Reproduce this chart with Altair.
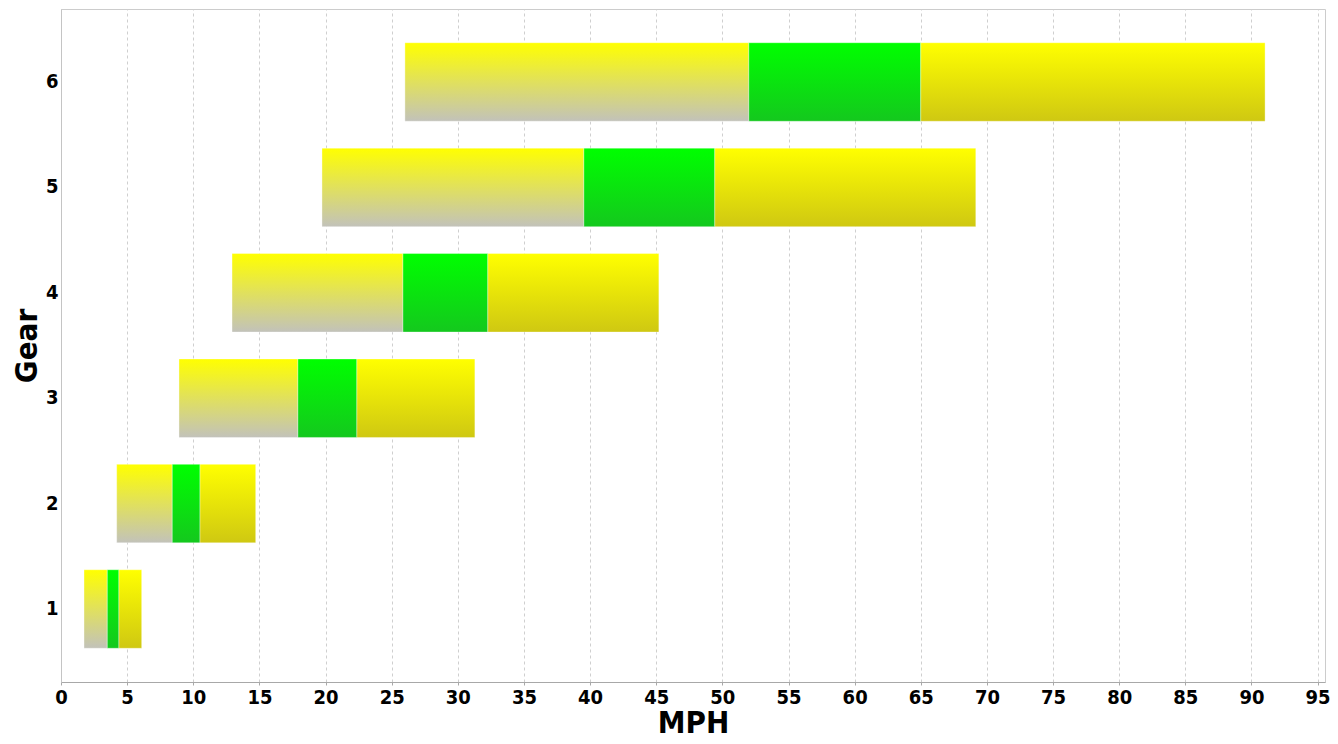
import altair as alt
import pandas as pd

# Gear speed ranges (MPH)
gears = [1, 2, 3, 4, 5, 6]
range_start = [1.74, 4.21, 8.92, 12.93, 19.73, 26.00]
band_start = [3.50, 8.41, 17.91, 25.85, 39.53, 52.00]
band_end = [4.38, 10.51, 22.37, 32.27, 49.43, 65.00]
range_end = [6.10, 14.72, 31.29, 45.20, 69.16, 91.03]
x_ticks = list(range(0, 100, 5))

rows = []
for g, a, b, c, d in zip(gears, range_start, band_start, band_end, range_end):
    rows.append({"gear": g, "segment": "low", "x_start": a, "x_end": b})
    rows.append({"gear": g, "segment": "optimal", "x_start": b, "x_end": c})
    rows.append({"gear": g, "segment": "high", "x_start": c, "x_end": d})
df = pd.DataFrame(rows)

FONT = "DejaVu Sans Condensed, Liberation Sans Narrow, DejaVu Sans"


def grad(top, bottom):
    return alt.Gradient(
        gradient="linear",
        stops=[alt.GradientStop(color=top, offset=0),
               alt.GradientStop(color=bottom, offset=1)],
        x1=0, x2=0, y1=0, y2=1,
    )


x_enc = alt.X(
    "x_start:Q",
    title="MPH",
    scale=alt.Scale(domain=[0, 95.56], nice=False, zero=False),
    axis=alt.Axis(values=x_ticks, grid=True, gridDash=[3, 3], gridColor="#cfcfcf",
                  domainColor="#a8a8a8", tickColor="#a8a8a8", tickSize=3,
                  labelPadding=2, labelFlush=False,
                  titleY=50, titleBaseline="alphabetic"),
)
y_enc = alt.Y(
    "gear:O",
    sort="descending",
    title="Gear",
    scale=alt.Scale(paddingInner=0.255, paddingOuter=0.32),
    axis=alt.Axis(grid=False, ticks=False, domainColor="#c4c4c4", labelAngle=0,
                  labelPadding=3, titlePadding=2),
)

base = alt.Chart(df).encode(x=x_enc, x2="x_end:Q", y=y_enc)

stroke_kw = dict(stroke="#ffffff", strokeWidth=0.8, strokeOpacity=0.45)
low = base.transform_filter(alt.datum.segment == "low").mark_bar(
    fill=grad("#ffff00", "#c2c2ba"), **stroke_kw
)
opt = base.transform_filter(alt.datum.segment == "optimal").mark_bar(
    fill=grad("#00ff00", "#14c81e"), **stroke_kw
)
high = base.transform_filter(alt.datum.segment == "high").mark_bar(
    fill=grad("#ffff00", "#cfc812"), **stroke_kw
)

chart = (
    alt.layer(low, opt, high)
    .properties(
        width=1264,
        height=673,
        autosize=alt.AutoSizeParams(type="none"),
        padding={"left": 53, "top": 1, "right": 5, "bottom": 54},
    )
    .configure_view(stroke="#cccccc", strokeWidth=1)
    .configure_axis(
        labelFont=FONT, labelFontSize=20, labelFontWeight="bold", labelColor="#000000",
        titleFont=FONT, titleFontSize=31, titleFontWeight="bold",
        titleColor="#000000",
    )
)

chart.save("out.html", embed_options={"renderer": "svg", "actions": False})
